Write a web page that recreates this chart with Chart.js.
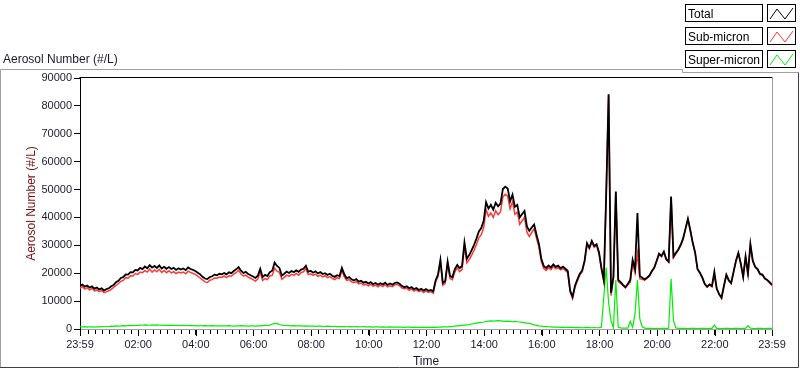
<!DOCTYPE html>
<html>
<head>
<meta charset="utf-8">
<script src="https://cdn.jsdelivr.net/npm/chart.js@4.4.1/dist/chart.umd.min.js"></script>
<style>
  html, body { margin: 0; padding: 0; background: #fff; }
  #wrap { position: relative; width: 800px; height: 369px; }
</style>
</head>
<body>
<div id="wrap"><canvas id="chart" width="800" height="369"></canvas></div>
<script>
// one sample every 5 minutes, starting 23:59 of the previous day
const stepMinutes = 5;

const seriesNames = ["Total", "Sub-micron", "Super-micron"];
const seriesColors = ["#000000", "#ff3838", "#00f000"];

const total = [
  15500, 15900, 15200, 15600, 14900, 15300, 14500, 14900, 14200, 14600, 13800, 14300,
  14600, 15300, 15800, 16800, 17300, 18300, 18600, 19600, 19500, 20400, 20300, 21200,
  21000, 21900, 21500, 22400, 21800, 22900, 22000, 22600, 21900, 22800, 21700, 22300,
  21600, 22200, 21500, 21900, 21200, 21800, 21300, 21700, 21100, 22100, 21500, 21200,
  20800, 20200, 19600, 18700, 18100, 17900, 18600, 18900, 19500, 19300, 19800, 19600,
  20100, 19600, 20300, 20000, 20800, 21400, 22200, 20900, 20100, 20500, 19700, 19300,
  18800, 18300, 19100, 21600, 18600, 19400, 19000, 20400, 20900, 23800, 22600, 21900,
  19200, 19800, 20600, 20100, 20800, 20400, 21000, 20500, 21300, 21600, 22700, 20500,
  20900, 20200, 20700, 19900, 20400, 19700, 20000, 19400, 19800, 19100, 18700, 19300,
  19000, 21900, 19600, 18200, 18600, 17800, 17400, 17900, 17000, 17300, 16600, 16900,
  16300, 16800, 16100, 16500, 15900, 16400, 16000, 16600, 15800, 16300, 15900, 16500,
  16700, 16200, 15400, 15000, 15300, 14600, 15000, 14300, 14700, 14000, 14400, 13800,
  14300, 13700, 14000, 13500, 17400, 19500, 24800, 16500, 17200, 24200, 19000, 18600,
  21500, 23000, 21800, 22600, 31000, 25200, 26500, 28300, 30200, 32400, 35000, 36200,
  38800, 45500, 43200, 44500, 42800, 45300, 44000, 45000, 50200, 51000, 50400, 45800,
  48200, 43800, 44500, 40000, 41200, 42300, 36800, 35200, 36400, 37500, 33800, 30500,
  25200, 22600, 21900, 22800, 22100, 23200, 22300, 22700, 21800, 22400, 21600, 20800,
  13800, 11500, 15500, 17800, 19800, 21000, 24500, 30800, 29200, 31600, 29800, 30400,
  27500, 22000, 17500, 48500, 84200, 13000, 18700, 49300, 17600, 16800, 15800, 15000,
  16200, 17600, 24800, 21500, 41600, 19000, 18400, 17800, 18400, 19200, 20800, 22000,
  24500, 27000, 26200, 27800, 25000, 24200, 47500, 26000, 27300, 28500, 30200, 32500,
  36000, 39500, 35500, 31000, 27500, 21500, 20200, 18500, 16200, 15200, 16000, 15400,
  20500, 14500, 12500, 11200, 15500, 19500, 17500, 16500, 20500, 24500, 27300, 23500,
  18700, 26000, 20000, 30500, 24500, 22300, 21500, 19800, 19500, 18200, 17600, 16800, 15800
];

const subMicron = [
  14600, 15200, 14300, 14800, 14000, 14600, 13700, 14000, 13400, 13800, 13000, 13300,
  13700, 14200, 14900, 15600, 16300, 17100, 17400, 18400, 18200, 19100, 19000, 19900,
  19600, 20400, 20200, 20900, 20400, 21500, 20400, 21200, 20500, 21400, 20300, 21000,
  20200, 20900, 20100, 20600, 19900, 20400, 20100, 20400, 19800, 20700, 20300, 19900,
  19600, 19000, 18300, 17600, 16900, 16700, 17500, 17700, 18300, 18200, 18600, 18500,
  19000, 18400, 19100, 18900, 19700, 20200, 21100, 19700, 19000, 19300, 18600, 18200,
  17700, 17200, 17900, 20400, 17400, 18100, 17700, 19000, 19200, 21800, 20700, 20300,
  17800, 18500, 19300, 18900, 19600, 19200, 19900, 19300, 20200, 20500, 21600, 19500,
  19800, 19200, 19700, 18900, 19300, 18700, 19100, 18400, 18800, 18200, 17700, 18400,
  18100, 21000, 18700, 17400, 17700, 16900, 16600, 17000, 16200, 16500, 15700, 16100,
  15500, 16000, 15400, 15700, 15100, 15700, 15200, 15900, 15100, 15500, 15200, 15800,
  16000, 15500, 14700, 14400, 14600, 13900, 14400, 13600, 14100, 13400, 13800, 13100,
  13700, 13100, 13400, 12800, 16800, 18800, 24100, 15700, 16400, 23400, 18100, 17700,
  20500, 21900, 20600, 21300, 29600, 23700, 24900, 26500, 28300, 30300, 32700, 33800,
  36300, 42800, 40400, 41600, 40000, 42400, 41000, 42100, 47400, 48300, 47600, 43100,
  45600, 41100, 41900, 37500, 38800, 40000, 34700, 33200, 34600, 36000, 32500, 29400,
  24200, 21700, 21000, 22000, 21300, 22500, 21600, 22000, 21200, 21700, 21000, 20200,
  13200, 10900, 15000, 17200, 19300, 20500, 24000, 30200, 28700, 31100, 29300, 29900,
  27000, 21400, 17000, 48300, 84000, 12000, 18200, 49000, 17000, 16400, 15500, 14700,
  15800, 16700, 23800, 20000, 27000, 18000, 17800, 17500, 18200, 18900, 20600, 21800,
  24200, 26800, 25900, 27500, 24800, 23900, 47200, 25500, 26900, 28300, 29900, 32200,
  35700, 39300, 35200, 30700, 27300, 21300, 20000, 18200, 16000, 15000, 15800, 15100,
  19100, 14200, 12300, 11000, 15300, 19200, 17300, 16300, 20300, 24200, 27100, 23300,
  18500, 25700, 18800, 30200, 24300, 22100, 21300, 19500, 19300, 18000, 17400, 16500, 15600
];

const superMicron = [
  800, 750, 850, 700, 800, 750, 700, 800, 750, 850, 800, 900,
  900, 1000, 950, 1100, 1050, 1100, 1200, 1100, 1250, 1200, 1300, 1250,
  1300, 1400, 1350, 1450, 1400, 1350, 1500, 1400, 1450, 1350, 1400, 1300,
  1350, 1300, 1400, 1250, 1300, 1350, 1200, 1300, 1250, 1350, 1200, 1250,
  1200, 1150, 1250, 1100, 1200, 1150, 1100, 1200, 1150, 1100, 1150, 1100,
  1100, 1150, 1200, 1100, 1050, 1150, 1100, 1200, 1100, 1150, 1050, 1100,
  1100, 1050, 1150, 1100, 1200, 1300, 1250, 1400, 1700, 2000, 1900, 1600,
  1400, 1300, 1250, 1200, 1150, 1200, 1100, 1150, 1100, 1050, 1100, 1000,
  1050, 1000, 950, 1000, 1050, 950, 900, 1000, 950, 900, 950, 850,
  900, 850, 900, 800, 850, 900, 800, 850, 750, 800, 850, 750,
  800, 750, 700, 800, 750, 700, 750, 650, 700, 750, 650, 700,
  700, 650, 700, 600, 650, 700, 600, 650, 600, 550, 600, 650,
  600, 550, 600, 650, 600, 700, 650, 750, 800, 750, 850, 900,
  1000, 1100, 1200, 1300, 1400, 1500, 1600, 1800, 1900, 2100, 2300, 2400,
  2500, 2700, 2800, 2900, 2800, 2900, 3000, 2900, 2800, 2700, 2800, 2700,
  2600, 2700, 2600, 2500, 2400, 2300, 2100, 2000, 1800, 1500, 1300, 1100,
  1000, 900, 850, 800, 750, 700, 700, 650, 600, 650, 600, 550,
  600, 550, 500, 550, 500, 450, 500, 550, 500, 450, 500, 450,
  500, 600, 11500, 22000, 9400, 3000, 500, 17600, 600, 400, 300, 300,
  300, 2800, 600, 5500, 17600, 3500, 800, 300, 200, 250, 200, 150,
  200, 150, 200, 250, 200, 300, 18000, 3000, 400, 200, 250, 200,
  200, 150, 200, 250, 200, 150, 200, 250, 200, 150, 200, 250,
  1400, 250, 200, 150, 200, 250, 200, 150, 200, 250, 200, 150,
  200, 250, 1200, 300, 200, 150, 200, 250, 200, 150, 200, 250, 200
];

const yTicks = [0, 10000, 20000, 30000, 40000, 50000, 60000, 70000, 80000, 90000];
// minutes after the 23:59 start
const majorTickMinutes = [0, 121, 241, 361, 481, 601, 721, 841, 961, 1081, 1201, 1321, 1440];
const majorTickLabels = ["23:59", "02:00", "04:00", "06:00", "08:00", "10:00", "12:00",
  "14:00", "16:00", "18:00", "20:00", "22:00", "23:59"];
const minorTickStep = 15;

const FONT = "'Liberation Sans', Arial, sans-serif";
const TEXT = "#1a1a2e";

function toPoints(values) {
  return values.map((v, i) => ({ x: i * stepMinutes, y: v }));
}

const framePlugin = {
  id: "frame",
  afterDraw(chart) {
    const ctx = chart.ctx;
    const a = chart.chartArea;
    const xs = chart.scales.x;
    ctx.save();
    ctx.lineWidth = 1;

    // outer panel
    ctx.strokeStyle = "#a0a0a0";
    ctx.beginPath();
    ctx.moveTo(0.5, 368);
    ctx.lineTo(0.5, 69.5);
    ctx.lineTo(682.5, 69.5);
    ctx.lineTo(682.5, 72.5);
    ctx.lineTo(798.5, 72.5);
    ctx.stroke();
    ctx.strokeStyle = "#404040";
    ctx.beginPath();
    ctx.moveTo(798.5, 72.5);
    ctx.lineTo(798.5, 367.5);
    ctx.lineTo(0, 367.5);
    ctx.stroke();

    // plot box: top black, right gray
    ctx.strokeStyle = "#000";
    ctx.beginPath();
    ctx.moveTo(Math.round(a.left) - 0.5, Math.round(a.top) - 0.5);
    ctx.lineTo(Math.round(a.right) + 0.5, Math.round(a.top) - 0.5);
    ctx.stroke();
    ctx.strokeStyle = "#a0a0a0";
    ctx.beginPath();
    ctx.moveTo(Math.round(a.right) + 0.5, Math.round(a.top) - 0.5);
    ctx.lineTo(Math.round(a.right) + 0.5, Math.round(a.bottom));
    ctx.stroke();

    // x ticks: minor every 15 min from 00:00, major at labels
    ctx.strokeStyle = "#000";
    const yb = Math.round(a.bottom) + 1;
    ctx.beginPath();
    for (let m = 1; m < xs.max; m += minorTickStep) {
      const px = Math.round(xs.getPixelForValue(m)) + 0.5;
      ctx.moveTo(px, yb);
      ctx.lineTo(px, yb + 4);
    }
    majorTickMinutes.forEach((m) => {
      const px = Math.round(xs.getPixelForValue(m)) + 0.5;
      ctx.moveTo(px, yb);
      ctx.lineTo(px, yb + 6);
    });
    ctx.stroke();

    // graph caption
    ctx.fillStyle = TEXT;
    ctx.font = "12px " + FONT;
    ctx.textBaseline = "alphabetic";
    ctx.textAlign = "left";
    ctx.fillText("Aerosol Number (#/L)", 3, 63);

    // legend
    chart.data.datasets.forEach((ds, k) => {
      const top = 4 + k * 23;
      ctx.strokeStyle = "#000";
      ctx.lineWidth = 1;
      ctx.strokeRect(685.5, top + 0.5, 77, 17);
      ctx.strokeRect(767.5, top + 0.5, 28, 17);
      ctx.fillStyle = "#000";
      ctx.fillText(ds.label, 688, top + 13.5);
      ctx.strokeStyle = ds.borderColor;
      ctx.beginPath();
      ctx.moveTo(770, top + 15);
      ctx.lineTo(777, top + 5);
      ctx.lineTo(785, top + 15);
      ctx.lineTo(793, top + 4);
      ctx.stroke();
    });
    ctx.restore();
  }
};

new Chart(document.getElementById("chart"), {
  type: "line",
  data: {
    datasets: [
      { label: seriesNames[0], data: toPoints(total), borderColor: seriesColors[0], borderWidth: 1.8 },
      { label: seriesNames[1], data: toPoints(subMicron), borderColor: seriesColors[1], borderWidth: 1.5 },
      { label: seriesNames[2], data: toPoints(superMicron), borderColor: seriesColors[2], borderWidth: 1.2 }
    ]
  },
  options: {
    responsive: false,
    animation: false,
    events: [],
    elements: { point: { radius: 0 }, line: { tension: 0 } },
    layout: { padding: { left: 0, top: 78, right: 28, bottom: 0 } },
    plugins: { legend: { display: false }, tooltip: { enabled: false } },
    scales: {
      x: {
        type: "linear",
        min: 0,
        max: 1440,
        afterBuildTicks: (scale) => {
          scale.ticks = majorTickMinutes.map((v) => ({ value: v }));
        },
        afterFit: (scale) => { scale.height = 40; },
        ticks: {
          autoSkip: false,
          maxRotation: 0,
          padding: 3,
          color: TEXT,
          font: { family: FONT, size: 11 },
          callback: (v) => {
            const idx = majorTickMinutes.indexOf(v);
            return idx >= 0 ? majorTickLabels[idx] : "";
          }
        },
        grid: { drawOnChartArea: false, drawTicks: true, tickLength: 6, tickColor: "#000" },
        border: { color: "#a0a0a0" },
        title: {
          display: true,
          text: "Time",
          color: TEXT,
          font: { family: FONT, size: 12 },
          padding: { top: 0, bottom: 0 }
        }
      },
      y: {
        min: 0,
        max: 90000,
        afterBuildTicks: (scale) => {
          scale.ticks = yTicks.map((v) => ({ value: v }));
        },
        afterFit: (scale) => { scale.width = 80; },
        ticks: {
          padding: 2,
          color: TEXT,
          font: { family: FONT, size: 11 },
          callback: (v) => String(v)
        },
        grid: { drawOnChartArea: false, drawTicks: true, tickLength: 6, tickColor: "#000" },
        border: { color: "#000" },
        title: {
          display: true,
          text: "Aerosol Number (#/L)",
          color: "#7a1010",
          font: { family: FONT, size: 12 },
          padding: { top: 24, bottom: 0 }
        }
      }
    }
  },
  plugins: [framePlugin]
});
</script>
</body>
</html>
